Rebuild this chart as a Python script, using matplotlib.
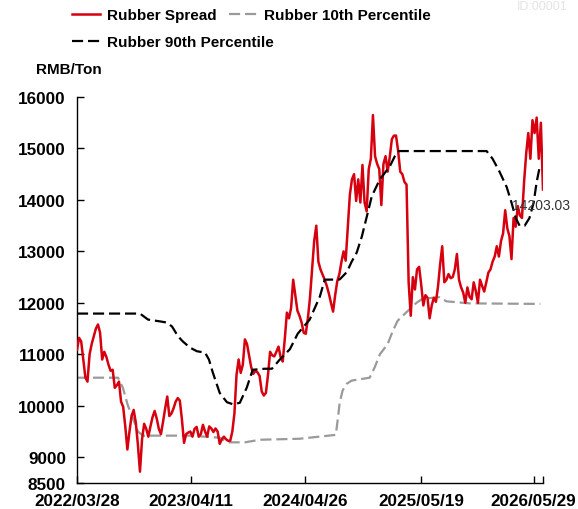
import matplotlib
matplotlib.use("Agg")
import matplotlib.pyplot as plt
import pandas as pd

plt.rcParams["font.family"] = ["Liberation Sans", "DejaVu Sans"]

# Weekly rubber spread (RMB/Ton), starting 2022-03-28
spread = [
    11090, 11320, 11250, 10900, 10550, 10470, 11000, 11200, 11350, 11500,
    11580, 11420, 10900, 11050, 10950, 10800, 10680, 10700, 10350, 10400,
    10470, 10080, 9980, 9600, 9150, 9500, 9800, 9920, 9680, 9250,
    8720, 9350, 9650, 9550, 9400, 9600, 9780, 9900, 9750, 9550,
    9450, 9690, 9950, 10180, 9800, 9850, 9950, 10080, 10150, 10100,
    9730, 9280, 9450, 9480, 9500, 9400, 9550, 9590, 9400, 9450,
    9630, 9500, 9400, 9600, 9560, 9490, 9560, 9500, 9260, 9350,
    9400, 9350, 9320, 9320, 9500, 9850, 10600, 10900, 10640, 10800,
    11290, 11200, 10980, 10750, 10620, 10680, 10650, 10580, 10280, 10200,
    10250, 10600, 11050, 10980, 10960, 11050, 11150, 10950, 10860, 11300,
    11810, 11700, 11900, 12450, 12150, 11850, 11750, 11620, 11420, 11400,
    11700, 12100, 12650, 13200, 13500, 12800, 12650, 12550, 12450, 12330,
    12180, 12000, 11830, 12150, 12420, 12560, 12800, 13000, 12820, 13450,
    14100, 14400, 14500, 13980, 14400, 13950, 14680, 13950, 13780, 14600,
    14800, 15650, 14850, 14700, 14600, 13900, 14700, 14850, 14550, 14830,
    15180, 15250, 15250, 14950, 14550, 14500, 14350, 14300, 12400, 11750,
    12500, 12260, 12650, 12700, 12350, 11950, 12150, 12100, 11700, 11950,
    12100, 12020, 12320, 12750, 13100, 12400, 12450, 12560, 12480, 12500,
    12650, 12950, 12450, 12300, 12200, 12000, 12300, 12120, 12070, 12400,
    12230, 12000, 12450, 12330, 12220, 12400, 12590, 12650, 12800, 12900,
    13100, 12900, 13200, 13350, 13800, 13450, 13300, 12850, 13650, 13480,
    13880, 13700, 13650, 14350, 14900, 15300, 14800, 15550, 15300, 15600,
    14800, 15500, 14203.03,
]
spread_start = "2022-03-28"

# Rolling 10th percentile
p10_dates = [
    "2022-03-28", "2022-08-12", "2022-08-28", "2022-09-14", "2022-10-01",
    "2022-10-17", "2022-11-03", "2023-04-09", "2023-07-17", "2023-08-13",
    "2023-10-09", "2023-11-28", "2024-04-09", "2024-08-07", "2024-08-14",
    "2024-08-20", "2024-08-30", "2024-09-13", "2024-09-29", "2024-11-28",
    "2024-12-15", "2025-01-01", "2025-01-27", "2025-02-13", "2025-03-01",
    "2025-03-31", "2025-05-03", "2025-05-23", "2025-07-18", "2025-08-11",
    "2025-10-28", "2026-06-20",
]
p10_values = [
    10546, 10546, 10350, 10000, 9750,
    9500, 9420, 9420, 9380, 9290,
    9290, 9340, 9360, 9435, 9750,
    10060, 10300, 10430, 10490, 10546,
    10750, 11000, 11200, 11450, 11650,
    11820, 12000, 12080, 12110, 12030,
    11990, 11980,
]

# Rolling 90th percentile
p90_dates = [
    "2022-03-28", "2022-10-24", "2022-11-20", "2022-12-30", "2023-01-22",
    "2023-02-08", "2023-02-28", "2023-03-16", "2023-04-09", "2023-05-02",
    "2023-05-29", "2023-06-11", "2023-06-24", "2023-07-17", "2023-08-10",
    "2023-08-30", "2023-09-22", "2023-10-15", "2023-11-04", "2023-12-14",
    "2024-01-07", "2024-02-02", "2024-03-07", "2024-04-02", "2024-05-12",
    "2024-06-15", "2024-07-01", "2024-08-20", "2024-09-13", "2024-09-29",
    "2024-10-16", "2024-11-02", "2024-11-22", "2024-12-05", "2025-01-01",
    "2025-02-03", "2025-02-20", "2025-03-05", "2025-12-23", "2026-01-12",
    "2026-02-04", "2026-02-28", "2026-03-16", "2026-03-30", "2026-04-12",
    "2026-04-29", "2026-05-15", "2026-05-29", "2026-06-08", "2026-06-18",
]
p90_values = [
    11792, 11792, 11675, 11640, 11617,
    11540, 11350, 11250, 11130, 11060,
    11033, 10900, 10645, 10250, 10070,
    10030, 10058, 10350, 10700, 10720,
    10720, 10896, 11100, 11400, 11675,
    12124, 12450, 12455, 12600, 12800,
    12980, 13290, 13760, 14070, 14400,
    14650, 14850, 14950, 14950, 14800,
    14550, 14250, 13950, 13650, 13500,
    13500, 13650, 13950, 14350, 14640,
]

tick_dates = ["2022-03-28", "2023-04-11", "2024-04-26", "2025-05-19", "2026-05-29"]
y_ticks = [8500, 9000, 10000, 11000, 12000, 13000, 14000, 15000, 16000]

spread_dates = pd.date_range(spread_start, periods=len(spread), freq="7D")
p10_x = pd.to_datetime(p10_dates)
p90_x = pd.to_datetime(p90_dates)

RED = "#d7000f"
GRAY = "#9a9a9a"

fig = plt.figure(figsize=(5.78, 5.10), dpi=100)
ax = fig.add_axes([0.1332, 0.051, 0.8062, 0.7568])

l_spread, = ax.plot(spread_dates, spread, color=RED, lw=1.8, label="Rubber Spread", zorder=3)
l_p10, = ax.plot(p10_x, p10_values, color=GRAY, lw=1.6, ls=(0, (5, 2.2)),
                 label="Rubber 10th Percentile", zorder=2)
l_p90, = ax.plot(p90_x, p90_values, color="black", lw=1.6, ls=(0, (5, 2.2)),
                 label="Rubber 90th Percentile", zorder=4)

ax.annotate(f"{spread[-1]:.2f}", xy=(spread_dates[-1], spread[-1]),
            xytext=(-22, -11), textcoords="offset points",
            ha="left", va="center", fontsize=10, color="#333333", zorder=5)

ax.set_ylim(8500, 16000)
ax.set_yticks(y_ticks)
ax.set_yticklabels([str(v) for v in y_ticks])

ax.set_xlim(spread_dates[0], spread_dates[-1])
xt = list(pd.to_datetime(tick_dates)) + [spread_dates[-1]]
ax.set_xticks(xt)
ax.set_xticklabels([d.replace("-", "/") for d in tick_dates] + [""])

for side in ("top", "right"):
    ax.spines[side].set_visible(False)
for side in ("left", "bottom"):
    ax.spines[side].set_linewidth(1.0)

ax.tick_params(axis="both", direction="in", length=5, width=1.0, labelsize=12.3)
ax.tick_params(axis="y", pad=8)
ax.tick_params(axis="x", pad=7.5)
for lab in ax.get_xticklabels() + ax.get_yticklabels():
    lab.set_fontweight("bold")

fig.text(36 / 578, 1 - 70 / 510, "RMB/Ton", fontsize=11, fontweight="bold",
         ha="left", va="center")

# Legend laid out as two flowing rows
leg_kw = dict(loc="center left", frameon=False,
              prop={"size": 11, "weight": "bold"}, handlelength=1.85,
              handletextpad=0.45, columnspacing=0.8, borderpad=0,
              borderaxespad=0)
fig.legend(handles=[l_spread, l_p10], ncol=2,
           bbox_to_anchor=(72 / 578, 1 - 16 / 510), **leg_kw)
fig.legend(handles=[l_p90], ncol=1,
           bbox_to_anchor=(72 / 578, 1 - 43 / 510), **leg_kw)

fig.text(517 / 578, 0.999, "ID:00001", fontsize=9, color="#e4e4e4",
         ha="left", va="top")

fig.savefig("out.png", dpi=100)
